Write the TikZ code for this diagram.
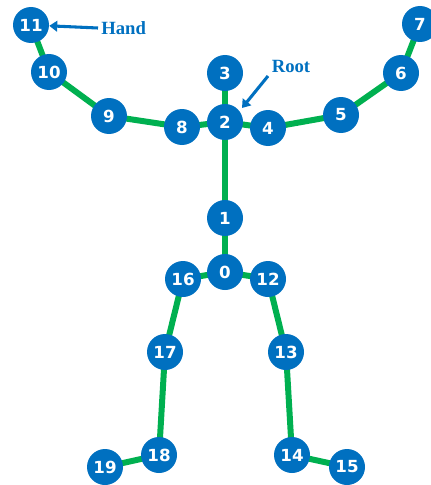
\documentclass[tikz,border=0pt]{standalone}
\usepackage{fontspec}
\setmainfont{Liberation Serif}
\newfontfamily\numfont{DejaVu Sans}
\usetikzlibrary{arrows.meta}
\definecolor{jblue}{HTML}{0070C0}
\definecolor{jgreen}{HTML}{00B050}
\tikzset{
  joint/.style={circle, fill=jblue, minimum size=27pt, inner sep=0pt, text=white, font=\numfont\bfseries\fontsize{12.5}{13}\selectfont},
  bone/.style={draw=jgreen, line width=4.5pt},
  callout/.style={draw=jblue, line width=2.3pt, -{Triangle[length=6pt,width=8pt]}},
  calltext/.style={text=jblue, font=\bfseries\fontsize{14}{16}\selectfont, inner sep=0pt}
}
\begin{document}
\begin{tikzpicture}[x=0.75pt,y=-0.75pt]
\useasboundingbox (0,0) rectangle (431,485);
\clip (0,0) rectangle (431,485);
\coordinate (p11) at (31,25);
\coordinate (p10) at (49,72);
\coordinate (p9) at (109,116);
\coordinate (p8) at (182,127);
\coordinate (p2) at (225,122);
\coordinate (p3) at (225,73);
\coordinate (p4) at (268,128);
\coordinate (p5) at (341,115);
\coordinate (p6) at (401,73);
\coordinate (p7) at (420,24);
\coordinate (p1) at (225,218);
\coordinate (p0) at (225,272);
\coordinate (p16) at (183,279);
\coordinate (p12) at (268,279);
\coordinate (p17) at (165,352);
\coordinate (p13) at (286,352);
\coordinate (p18) at (159,455);
\coordinate (p19) at (105,467);
\coordinate (p14) at (292,455);
\coordinate (p15) at (347,467);
\foreach \a/\b in {11/10,10/9,9/8,8/2,2/3,2/4,4/5,5/6,6/7,2/1,1/0,0/16,0/12,16/17,17/18,18/19,12/13,13/14,14/15}
  \draw[bone] (p\a) -- (p\b);
\foreach \n in {0,...,19}
  \node[joint] (n\n) at (p\n) {\n};
\node[calltext, anchor=west] (hand) at (101,28) {Hand};
\coordinate (handtail) at (98,28);
\draw[callout] (handtail) -- (n11);
\node[calltext] (root) at (291,66) {Root};
\coordinate (roottail) at (268,76);
\coordinate (roottip) at (242,108);
\draw[callout] (roottail) -- (roottip);
\end{tikzpicture}
\end{document}
